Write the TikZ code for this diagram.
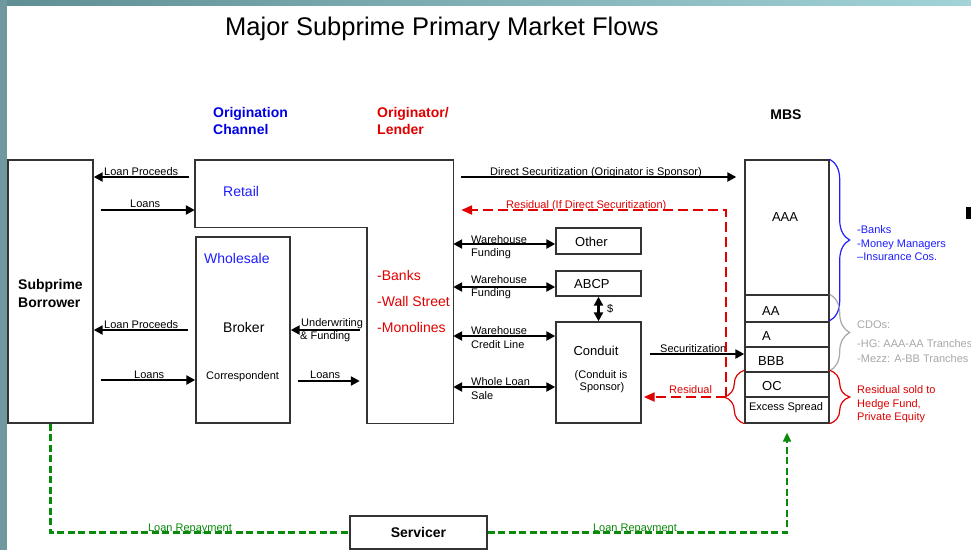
\documentclass[tikz,border=0pt]{standalone}
\usepackage{fontspec}
\setmainfont{Liberation Sans}
\usetikzlibrary{arrows.meta,decorations.pathreplacing,calc}
\definecolor{boxc}{HTML}{333333}
\definecolor{bluec}{HTML}{1E1EFF}
\definecolor{bluehd}{HTML}{0000E6}
\definecolor{redc}{HTML}{E00000}
\definecolor{greenc}{HTML}{0A8A0A}
\definecolor{grayc}{HTML}{A8A8A8}
\definecolor{tealA}{HTML}{5F8E94}
\definecolor{tealB}{HTML}{A2D3D7}
\newcommand\myfs[1]{\fontsize{#1}{#1}\selectfont}
\tikzset{
  box/.style={draw=boxc, line width=1.4pt, inner sep=0pt, fill=white},
  inv/.style={inner sep=0pt},
  outline/.style={draw=boxc, line width=1.4pt},
  lab/.style={inner sep=0pt, font=\myfs{11}},
  big/.style={inner sep=0pt, font=\myfs{14}},
  bigb/.style={inner sep=0pt, font=\bfseries\myfs{14}},
  tr/.style={inner sep=0pt, font=\myfs{13}},
  arr/.style={line width=2.4pt, -{Triangle[length=9pt,width=9pt]}},
  darr/.style={line width=2.4pt, {Triangle[length=9pt,width=9pt]}-{Triangle[length=9pt,width=9pt]}},
  rarr/.style={draw=redc, line width=2.2pt, dash pattern=on 10pt off 5pt, -{Triangle[length=11pt,width=9pt]}, redc},
  garr/.style={draw=greenc, line width=2.2pt, dash pattern=on 7pt off 3.5pt},
  bracestyle/.style={line width=1.2pt, decorate, decoration={brace, amplitude=20pt}},
}
\begin{document}
\begin{tikzpicture}[x=1pt,y=-1pt]
\useasboundingbox (0,0) rectangle (971,550);
\fill[white] (0,0) rectangle (971,550);
\shade[left color=tealA, right color=tealB] (0,0) rectangle (971,5);
\fill[tealA!90!white] (0,0) rectangle (7,550);

% titles
\node[inner sep=0pt, font=\myfs{25.5}, anchor=base] (title) at (442,35) {Major Subprime Primary Market Flows};
\node[bigb, text=bluehd, anchor=base west] (oc1) at (213,117) {Origination};
\node[bigb, text=bluehd, anchor=base west] (oc2) at (213,134) {Channel};
\node[bigb, text=redc, anchor=base west] (ol1) at (377,117) {Originator/};
\node[bigb, text=redc, anchor=base west] (ol2) at (377,134) {Lender};
\node[bigb, anchor=base] (mbs) at (786,119) {MBS};

% boxes
\node[box, minimum width=85pt, minimum height=263pt] (sb) at (50.5,291.5) {};
\node[bigb, anchor=base west] (sb1) at (18,289) {Subprime};
\node[bigb, anchor=base west] (sb2) at (18,307) {Borrower};

\node[inv, minimum width=172pt, minimum height=67pt] (ret) at (281,193.5) {};
\node[inv, minimum width=86pt, minimum height=263pt] (org) at (410,291.5) {};
\draw[outline] (ret.north west) -- (org.north east) -- (org.south east) -- (org.south west) -- (org.west |- ret.south) -- (ret.south west) -- cycle;
\node[big, text=bluec, anchor=base west] (retl) at (223,196) {Retail};
\node[big, text=redc, anchor=base west] (b1) at (377,280) {-Banks};
\node[big, text=redc, anchor=base west] (b2) at (377,306) {-Wall Street};
\node[big, text=redc, anchor=base west] (b3) at (377,332) {-Monolines};

\node[box, minimum width=94pt, minimum height=186pt] (wh) at (243,330) {};
\node[big, text=bluec, anchor=base west] (whl) at (204,263) {Wholesale};
\node[big, anchor=base west] (brk) at (223,332) {Broker};
\node[lab, anchor=base west] (corr) at (206,379) {Correspondent};

\node[box, minimum width=85pt, minimum height=26pt] (oth) at (598.5,241) {};
\node[tr, anchor=base west] (othl) at (575,246) {Other};
\node[box, minimum width=85pt, minimum height=25pt] (abcp) at (598.5,283.5) {};
\node[tr, anchor=base west] (abcpl) at (574,288) {ABCP};
\node[box, minimum width=85pt, minimum height=101pt] (cond) at (598.5,372.5) {};
\node[tr, anchor=base] (condl) at (596,355) {Conduit};
\node[lab, anchor=base] (cond2) at (601,378) {(Conduit is};
\node[lab, anchor=base] (cond3) at (602,390) {Sponsor)};

% MBS tranches
\node[box, minimum width=84pt, minimum height=135pt] (aaa) at (787,227.5) {};
\node[box, minimum width=84pt, minimum height=27pt] (aa) at (787,308.5) {};
\node[box, minimum width=84pt, minimum height=25pt] (a) at (787,334.5) {};
\node[box, minimum width=84pt, minimum height=25pt] (bbb) at (787,359.5) {};
\node[box, minimum width=84pt, minimum height=25pt] (oc) at (787,384.5) {};
\node[box, minimum width=84pt, minimum height=26pt] (es) at (787,410) {};
\node[tr, anchor=base] (aaal) at (785,221) {AAA};
\node[tr, anchor=base west] (aal) at (762,315) {AA};
\node[tr, anchor=base west] (al) at (762,340) {A};
\node[tr, anchor=base west] (bbbl) at (758,365) {BBB};
\node[tr, anchor=base west] (ocl) at (762,390) {OC};
\node[lab, anchor=base] (esl) at (786,410) {Excess Spread};

\node[box, minimum width=137pt, minimum height=33pt, font=\bfseries\myfs{14}] (serv) at (418.5,532.5) {Servicer};

% black arrows
\draw[arr] ($(ret.west|-0,177)+(-6,0)$) -- (sb.east|-0,177);
\node[lab, anchor=base west] (lp1) at (104,175) {Loan Proceeds};
\draw[arr] ($(sb.east|-0,210)+(7,0)$) -- (ret.west|-0,210);
\node[lab, anchor=base west] (ln1) at (130,207) {Loans};
\draw[arr] ($(wh.west|-0,330)+(-7,0)$) -- (sb.east|-0,330);
\node[lab, anchor=base west] (lp2) at (104,328) {Loan Proceeds};
\draw[arr] ($(sb.east|-0,380)+(7,0)$) -- (wh.west|-0,380);
\node[lab, anchor=base west] (ln2) at (134,378) {Loans};
\draw[arr] ($(org.west|-0,330)+(-7,0)$) -- (wh.east|-0,330);
\node[lab, anchor=base west] (uw1) at (301,326) {Underwriting};
\node[lab, anchor=base west] (uw2) at (300,339) {\& Funding};
\draw[arr] ($(wh.east|-0,381)+(7,0)$) -- ($(org.west|-0,381)+(-7,0)$);
\node[lab, anchor=base west] (ln3) at (310,378) {Loans};

\draw[arr] ($(org.east|-0,177)+(8,0)$) -- ($(aaa.west|-0,177)+(-8,0)$);
\node[lab, anchor=base west] (ds) at (490,175) {Direct Securitization (Originator is Sponsor)};

\draw[darr] (org.east|-0,244) -- (oth.west|-0,244);
\node[lab, anchor=base west] (wf1) at (471,243) {Warehouse};
\node[lab, anchor=base west] (wf2) at (471,256) {Funding};
\draw[darr] (org.east|-0,287) -- (abcp.west|-0,287);
\node[lab, anchor=base west] (wf3) at (471,283) {Warehouse};
\node[lab, anchor=base west] (wf4) at (471,296) {Funding};
\draw[darr] (org.east|-0,336) -- (cond.west|-0,336);
\node[lab, anchor=base west] (wc1) at (471,334) {Warehouse};
\node[lab, anchor=base west] (wc2) at (471,348) {Credit Line};
\draw[darr] (org.east|-0,387) -- (cond.west|-0,387);
\node[lab, anchor=base west] (wl1) at (471,385) {Whole Loan};
\node[lab, anchor=base west] (wl2) at (471,399) {Sale};
\draw[darr] (abcp.south) -- (cond.north);
\node[lab, anchor=base west] (dol) at (607,312) {\$};
\draw[arr] ($(cond.east|-0,354)+(8,0)$) -- (bbb.west|-0,354);
\node[lab, anchor=base west] (sec) at (660,352) {Securitization};

% braces
\draw[bracestyle, draw=bluec] (aaa.north east) -- ($(aa.south east)+(0,-2)$);
\draw[bracestyle, draw=grayc] (aa.north east) -- ($(bbb.south east)+(0,-2)$);
\draw[bracestyle, draw=redc] ($(oc.north east)+(0,-1)$) -- (es.south east);
\draw[line width=1.2pt, draw=redc, decorate, decoration={brace, amplitude=20pt, mirror}] ($(oc.north west)+(0,-1)$) -- (es.south west);

% red residual
\coordinate (rtip) at (726,397);
\draw[rarr] (rtip) -- ($(cond.east|-0,397)+(2,0)$);
\draw[rarr] (rtip) |- ($(org.east|-0,210)+(8,0)$);
\node[lab, text=redc, anchor=base west] (res1) at (669,393) {Residual};
\node[lab, text=redc, anchor=base west] (res2) at (506,208) {Residual (If Direct Securitization)};

% right-hand labels
\node[lab, text=bluec, anchor=base west] (r1) at (857,233) {-Banks};
\node[lab, text=bluec, anchor=base west] (r2) at (857,247) {-Money Managers};
\node[lab, text=bluec, anchor=base west] (r3) at (857,260) {–Insurance Cos.};
\node[lab, text=grayc, anchor=base west] (c1) at (857,328) {CDOs:};
\node[lab, text=grayc, anchor=base west] (c2) at (857,347) {-HG: AAA-AA Tranches};
\node[lab, text=grayc, anchor=base west] (c3) at (857,362) {-Mezz: A-BB Tranches};
\node[lab, text=redc, anchor=base west] (h1) at (857,393) {Residual sold to};
\node[lab, text=redc, anchor=base west] (h2) at (857,407) {Hedge Fund,};
\node[lab, text=redc, anchor=base west] (h3) at (857,420) {Private Equity};
\fill[black] (966,207) rectangle (971,219);

% green repayment
\draw[garr] (sb.south) |- (serv.west);
\draw[garr, -{Triangle[length=9pt,width=8pt]}] (serv.east) -| ($(es.south)+(0,9)$);
\node[lab, text=greenc, anchor=base] (lr1) at (190,531) {Loan Repayment};
\node[lab, text=greenc, anchor=base] (lr2) at (635,531) {Loan Repayment};
\end{tikzpicture}
\end{document}
